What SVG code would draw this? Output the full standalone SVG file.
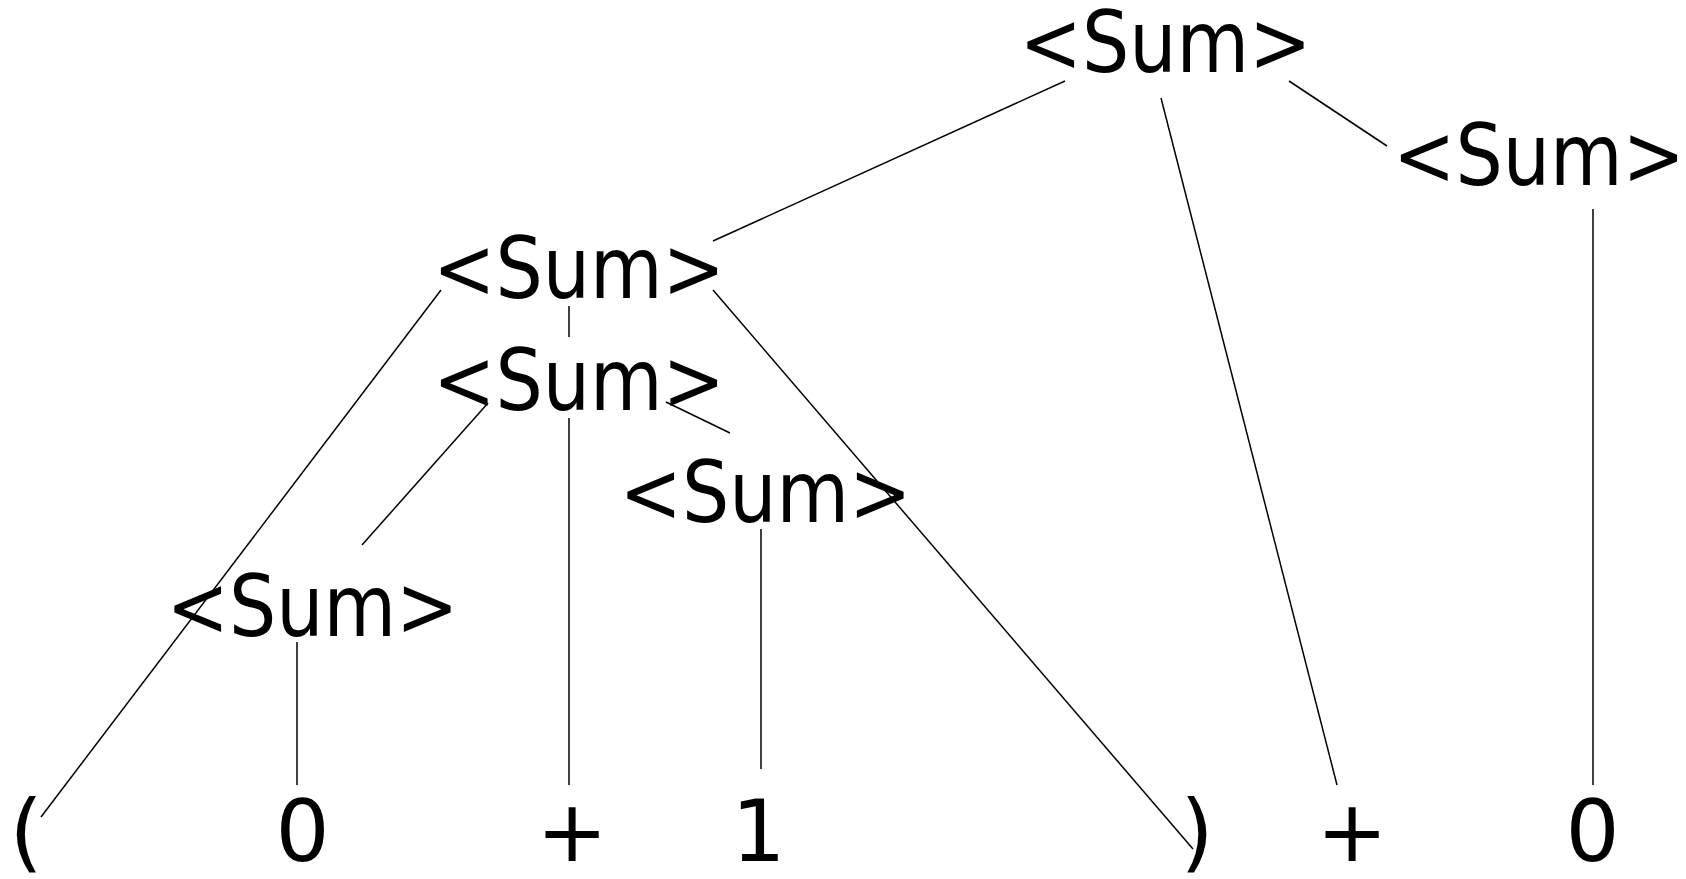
<svg xmlns="http://www.w3.org/2000/svg" width="1686" height="879" viewBox="0 0 1686 879">
<style>
.bg{fill:#ffffff}
.n{font-family:"DejaVu Sans","Liberation Sans",sans-serif;font-size:85px;fill:#000000;text-anchor:middle}
.e line{stroke:#000000;stroke-width:1.5;fill:none}
</style>
<rect class="bg" x="0" y="0" width="1686" height="879"/>
<g id="connectors" class="e">
<line x1="1065" y1="81" x2="713" y2="241"/>
<line x1="1161" y1="98" x2="1337" y2="785"/>
<line x1="1289" y1="81" x2="1387" y2="146"/>
<line x1="1593" y1="209" x2="1593" y2="785"/>
<line x1="441" y1="290" x2="41" y2="817"/>
<line x1="569" y1="306" x2="569" y2="337"/>
<line x1="713" y1="290" x2="1193" y2="849"/>
<line x1="488" y1="403" x2="362" y2="545"/>
<line x1="569" y1="418" x2="569" y2="785"/>
<line x1="666" y1="402" x2="730" y2="433"/>
<line x1="761" y1="529" x2="761" y2="769"/>
<line x1="297" y1="642" x2="297" y2="785"/>
</g>
<g id="sum-top"><text class="n" x="1165.5" y="72" textLength="292" lengthAdjust="spacingAndGlyphs">&lt;Sum&gt;</text></g>
<g id="sum-right"><text class="n" x="1539" y="185" textLength="292" lengthAdjust="spacingAndGlyphs">&lt;Sum&gt;</text></g>
<g id="sum-l2"><text class="n" x="579" y="298" textLength="292" lengthAdjust="spacingAndGlyphs">&lt;Sum&gt;</text></g>
<g id="sum-l3"><text class="n" x="579" y="410" textLength="292" lengthAdjust="spacingAndGlyphs">&lt;Sum&gt;</text></g>
<g id="sum-l4"><text class="n" x="765.5" y="522" textLength="292" lengthAdjust="spacingAndGlyphs">&lt;Sum&gt;</text></g>
<g id="sum-bl"><text class="n" x="312.5" y="636" textLength="292" lengthAdjust="spacingAndGlyphs">&lt;Sum&gt;</text></g>
<g id="leaf-lparen"><text class="n" x="26" y="861">(</text></g>
<g id="leaf-0a"><text class="n" x="302.5" y="861">0</text></g>
<g id="leaf-plus1"><text class="n" x="572" y="861">+</text></g>
<g id="leaf-1"><text class="n" x="758.5" y="861">1</text></g>
<g id="leaf-rparen"><text class="n" x="1197" y="861">)</text></g>
<g id="leaf-plus2"><text class="n" x="1352" y="861">+</text></g>
<g id="leaf-0b"><text class="n" x="1592.5" y="861">0</text></g>
</svg>
